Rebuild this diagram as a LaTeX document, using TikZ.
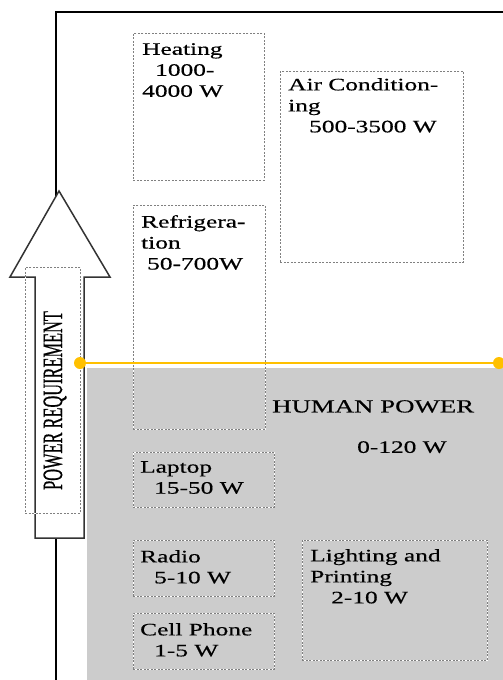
\documentclass[tikz,border=0pt]{standalone}
\usepackage{fontspec}
\setmainfont{Liberation Serif}[FakeStretch=1.45, FakeBold=0.5]
\newfontfamily\vertfont{Liberation Serif}[FakeStretch=0.585, FakeBold=0.5]
\definecolor{hpgray}{HTML}{CCCCCC}
\definecolor{hpyellow}{HTML}{FFC000}

\begin{document}
\begin{tikzpicture}[x=1pt, y=-1pt,
	box/.style={rectangle, draw=gray, line width=0.9pt, dash pattern=on 2pt off 1.5pt, preaction={draw=white, solid}, inner sep=0pt, anchor=north west},
	lbl/.style={anchor=north west, inner sep=0pt, align=left, font=\fontsize{17.5}{21}\selectfont},
	axis/.style={draw=black, line width=1.2pt},
	uparrow/.style={draw=black!80, fill=white, line width=1.5pt, line join=miter}]
	\useasboundingbox (0,0) rectangle (503,680);
	
	% Human power region
	\fill[hpgray] (87,368) rectangle (503,680);
	\draw[axis] (56,680) -- (56,12) -- (503,12);
	
	% Devices
	\node[box, minimum width=131pt, minimum height=147pt] (heat) at (133,33) {};
	\node[box, minimum width=183pt, minimum height=191pt] (air) at (280,71) {};
	\node[box, minimum width=132pt, minimum height=224pt] (fridge) at (133,205) {};
	\node[box, minimum width=141pt, minimum height=55pt] (laptop) at (133,452) {};
	\node[box, minimum width=141pt, minimum height=56pt] (radio) at (133,540) {};
	\node[box, minimum width=141pt, minimum height=56pt] (cell) at (133,613) {};
	\node[box, minimum width=185pt, minimum height=120pt] (light) at (302,540) {};
	
	% Arrow
	\draw[uparrow] (35,538) -- (35,277) -- (10,277) -- (59,191) -- (110,277) -- (84,277) -- (84,538) -- cycle;
	\node[box, minimum width=55pt, minimum height=246pt] (powbox) at (25,267) {};
	\node[rotate=90, anchor=base, inner sep=0pt, font=\vertfont\fontsize{28}{30}\selectfont] (powlbl) at (62,400.5) {POWER REQUIREMENT};
	
	% Human power line
	\coordinate (hpleft) at (80,363);
	\coordinate (hpright) at (499,363);
	\draw[hpyellow, line width=1.2pt] (hpleft) -- (hpright);
	\fill[hpyellow] (hpleft) circle (6);
	\fill[hpyellow] (hpright) circle (6);
	
	% Labels
	\node[lbl] (heatlbl) at (142,43) {Heating\\\hspace*{13pt}1000-\\4000 W};
	\node[lbl] (airlbl) at (288,78) {Air Condition-\\ing\\\hspace*{21pt}500-3500 W};
	\node[lbl] (fridgelbl) at (141,215) {Refrigera-\\tion\\\hspace*{6pt}50-700W};
	\node[lbl] (laptoplbl) at (140,461) {Laptop\\\hspace*{14pt}15-50 W};
	\node[lbl] (radiolbl) at (140,550) {Radio\\\hspace*{14pt}5-10 W};
	\node[lbl] (celllbl) at (140,623) {Cell Phone\\\hspace*{14pt}1-5 W};
	\node[lbl] (lightlbl) at (310,549) {Lighting and\\Printing\\\hspace*{21pt}2-10 W};
	\node[lbl, font=\fontsize{18.5}{21}\selectfont] (hptitle) at (272,400) {HUMAN POWER};
	\node[lbl] (hpvalue) at (357,441) {0-120 W};
\end{tikzpicture}
\end{document}
